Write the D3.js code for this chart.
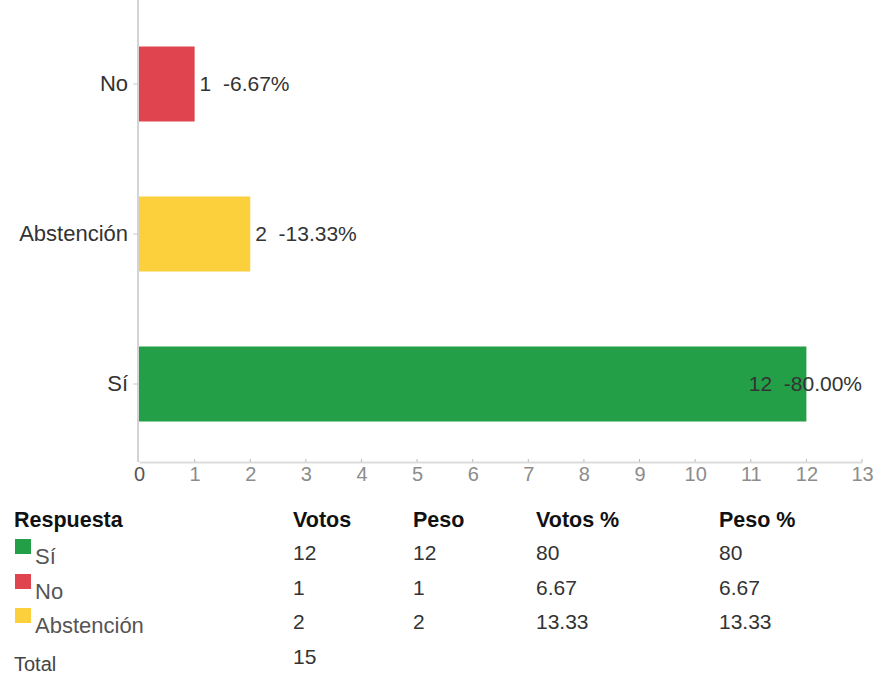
<!DOCTYPE html>
<html>
<head>
<meta charset="utf-8">
<script src="https://cdn.jsdelivr.net/npm/d3@7"></script>
<style>
  body { margin: 0; background: #fff; }
  svg { display: block; font-family: "Liberation Sans", Arial, sans-serif; }
</style>
</head>
<body>
<div id="chart"></div>
<script>
// chart data
const categories = ['No', 'Abstención', 'Sí'];
const votes = [1, 2, 12];
const votePct = ['6.67', '13.33', '80.00'];
const barColors = ['#e0444e', '#fcd03c', '#23a047'];
const xTicks = d3.range(0, 14);

// table data
const tableHeaders = ['Respuesta', 'Votos', 'Peso', 'Votos %', 'Peso %'];
const tableRows = ['Sí', 'No', 'Abstención'];
const tableVotos = [12, 1, 2];
const tablePeso = [12, 1, 2];
const tableVotosPct = ['80', '6.67', '13.33'];
const tablePesoPct = ['80', '6.67', '13.33'];
const tableColors = ['#23a047', '#e0444e', '#fcd03c'];
const totalVotes = 15;

const width = 881, height = 676;
const svg = d3.select('#chart').append('svg')
  .attr('width', width)
  .attr('height', height);

const x = d3.scaleLinear().domain([0, 13]).range([139, 862]);
const y = d3.scaleBand().domain(categories).range([9, 459])
  .paddingInner(0.5).paddingOuter(0.25);
const axisY = 462;

// x axis
const xAxis = svg.append('g')
  .attr('transform', `translate(0, ${axisY})`)
  .call(d3.axisBottom(x).tickValues(xTicks).tickSize(0).tickPadding(5).tickFormat(d3.format('d')));
xAxis.select('.domain').attr('stroke', '#dcdcdc').attr('stroke-width', 2);
xAxis.selectAll('text')
  .attr('font-size', 20)
  .attr('fill', d => d === 0 ? '#555' : '#8c8c8c')
  .attr('font-family', '"Liberation Sans", Arial, sans-serif');
// small tick marks above the axis
svg.append('g').selectAll('line')
  .data(xTicks.slice(1))
  .join('line')
  .attr('x1', d => x(d)).attr('x2', d => x(d))
  .attr('y1', axisY - 3).attr('y2', axisY)
  .attr('stroke', '#bbb');

// y axis
const yAxis = svg.append('g')
  .attr('transform', `translate(${x(0) - 1}, 0)`)
  .call(d3.axisLeft(y).tickSize(5).tickPadding(5));
yAxis.select('.domain').remove();
yAxis.selectAll('.tick line').attr('stroke', '#ccc');
yAxis.selectAll('text')
  .attr('font-size', 22)
  .attr('fill', '#333')
  .attr('font-family', '"Liberation Sans", Arial, sans-serif');
svg.append('line')
  .attr('x1', x(0) - 1).attr('x2', x(0) - 1)
  .attr('y1', 0).attr('y2', axisY)
  .attr('stroke', '#a8a8a8')
  .attr('stroke-width', 1);

// bars
svg.append('g').selectAll('rect')
  .data(categories)
  .join('rect')
  .attr('x', x(0))
  .attr('y', d => y(d))
  .attr('width', (d, i) => x(votes[i]) - x(0))
  .attr('height', y.bandwidth())
  .attr('fill', (d, i) => barColors[i]);

// value labels
svg.append('g').selectAll('text')
  .data(categories)
  .join('text')
  .attr('x', (d, i) => votes[i] === d3.max(votes) ? x(13) : x(votes[i]) + 5)
  .attr('text-anchor', (d, i) => votes[i] === d3.max(votes) ? 'end' : 'start')
  .attr('y', d => y(d) + y.bandwidth() / 2)
  .attr('dy', '0.35em')
  .attr('font-size', 21)
  .attr('fill', '#333')
  .style('white-space', 'pre')
  .text((d, i) => `${votes[i]}  -${votePct[i]}%`);

// table
const colX = [14, 293, 413, 536, 719];
const headerY = 527;
const rowY = [560, 595, 629];

svg.append('g').selectAll('text')
  .data(tableHeaders)
  .join('text')
  .attr('x', (d, i) => colX[i])
  .attr('y', headerY)
  .attr('font-size', 21.5)
  .attr('font-weight', 'bold')
  .attr('fill', '#111')
  .text(d => d);

const rows = svg.append('g').selectAll('g')
  .data(tableRows)
  .join('g')
  .attr('transform', (d, i) => `translate(0, ${rowY[i]})`);

rows.append('rect')
  .attr('x', 15).attr('y', -21)
  .attr('width', 16).attr('height', 15)
  .attr('fill', (d, i) => tableColors[i]);

rows.append('text')
  .attr('x', 35).attr('y', 4)
  .attr('font-size', 22)
  .attr('fill', '#555')
  .text(d => d);

const cells = [tableVotos, tablePeso, tableVotosPct, tablePesoPct];
cells.forEach((col, c) => {
  rows.append('text')
    .attr('x', colX[c + 1])
    .attr('y', 0)
    .attr('font-size', 21)
    .attr('fill', '#333')
    .text((d, i) => col[i]);
});

svg.append('text')
  .attr('x', 14).attr('y', 671)
  .attr('font-size', 20)
  .attr('fill', '#444')
  .text('Total');
svg.append('text')
  .attr('x', colX[1]).attr('y', 664)
  .attr('font-size', 21)
  .attr('fill', '#333')
  .text(totalVotes);
</script>
</body>
</html>
